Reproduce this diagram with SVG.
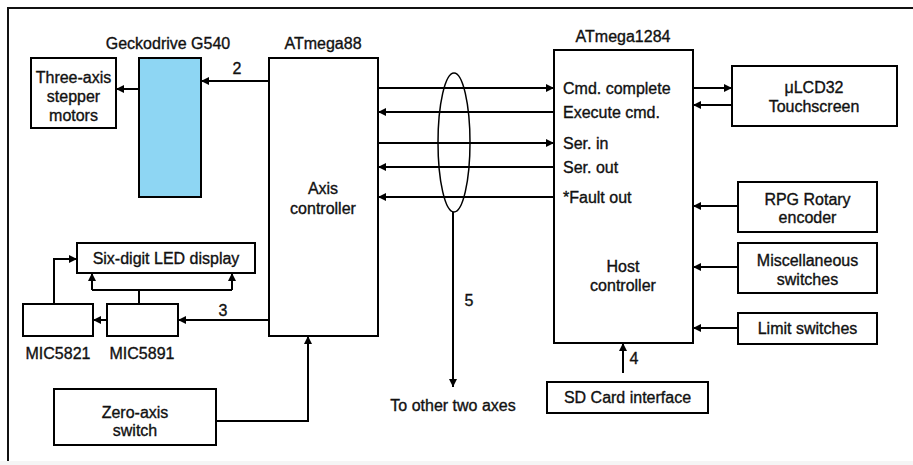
<svg xmlns="http://www.w3.org/2000/svg" width="913" height="465" viewBox="0 0 913 465">
<defs>
<marker id="ah" viewBox="0 0 10 10" refX="10" refY="5" markerWidth="9" markerHeight="8" markerUnits="userSpaceOnUse" orient="auto">
<path d="M0,0 L10,5 L0,10 z" fill="#000"/>
</marker>
<style>
.box{fill:#fff;stroke:#000;stroke-width:2}
.t{font-family:"Liberation Sans",Arial,sans-serif;font-size:16px;fill:#111;stroke:#111;stroke-width:0.35;text-anchor:middle}
.l{text-anchor:start}
.c{fill:none;stroke:#000;stroke-width:2}
.a{marker-end:url(#ah)}
</style>
</defs>
<rect width="913" height="465" fill="#fff"/>
<g id="frame">
<path d="M8,466 L8,8 L913,8" fill="none" stroke="#111" stroke-width="2"/>
<rect x="0" y="461" width="913" height="4" fill="#f5f5f5"/>
</g>
<g id="motors">
<rect class="box" x="31" y="58" width="85" height="70"/>
<text class="t" x="73.5" y="83">Three-axis</text>
<text class="t" x="73.5" y="102">stepper</text>
<text class="t" x="73.5" y="121">motors</text>
</g>
<g id="gecko">
<rect x="139" y="58" width="62" height="139" fill="#8ed6f3" stroke="#000" stroke-width="2"/>
<text class="t" x="168" y="49">Geckodrive G540</text>
</g>
<g id="atmega88">
<rect class="box" x="269" y="58" width="109" height="278"/>
<text class="t" x="323" y="49">ATmega88</text>
<text class="t" x="323" y="194">Axis</text>
<text class="t" x="323" y="214">controller</text>
</g>
<g id="atmega1284">
<rect class="box" x="554" y="50" width="139" height="293"/>
<text class="t" x="623" y="42">ATmega1284</text>
<text class="t l" x="563" y="94">Cmd. complete</text>
<text class="t l" x="563" y="118">Execute cmd.</text>
<text class="t l" x="563" y="149">Ser. in</text>
<text class="t l" x="563" y="173">Ser. out</text>
<text class="t l" x="563" y="203">*Fault out</text>
<text class="t" x="623" y="272">Host</text>
<text class="t" x="623" y="291">controller</text>
</g>
<g id="lcd">
<rect class="box" x="732" y="66" width="165" height="60"/>
<text class="t" x="814" y="93">μLCD32</text>
<text class="t" x="814" y="112">Touchscreen</text>
</g>
<g id="rpg">
<rect class="box" x="738" y="182" width="139" height="50"/>
<text class="t" x="807.5" y="205">RPG Rotary</text>
<text class="t" x="807.5" y="223">encoder</text>
</g>
<g id="misc">
<rect class="box" x="738" y="243" width="139" height="50"/>
<text class="t" x="807.5" y="266">Miscellaneous</text>
<text class="t" x="807.5" y="285">switches</text>
</g>
<g id="limit">
<rect class="box" x="738" y="313" width="139" height="31"/>
<text class="t" x="807.5" y="334">Limit switches</text>
</g>
<g id="sd">
<rect class="box" x="547" y="382" width="161" height="31"/>
<text class="t" x="627.5" y="403">SD Card interface</text>
</g>
<g id="led">
<rect class="box" x="77" y="243" width="178" height="30"/>
<text class="t" x="166" y="264">Six-digit LED display</text>
</g>
<g id="mic5821">
<rect class="box" x="23" y="304" width="70" height="32"/>
<text class="t" x="58" y="359">MIC5821</text>
</g>
<g id="mic5891">
<rect class="box" x="107" y="304" width="71" height="32"/>
<text class="t" x="142" y="359">MIC5891</text>
</g>
<g id="zero">
<rect class="box" x="54" y="389" width="162" height="56"/>
<text class="t" x="135" y="418">Zero-axis</text>
<text class="t" x="135" y="436">switch</text>
</g>
<g id="axes">
<text class="t" x="453" y="411">To other two axes</text>
</g>
<g id="connectors">
<path class="c a" d="M139,89 L116,89"/>
<path class="c a" d="M269,81 L201,81"/>
<text class="t" x="237" y="74">2</text>
<path class="c a" d="M378,88 L554,88"/>
<path class="c a" d="M554,112 L378,112"/>
<path class="c a" d="M378,143 L554,143"/>
<path class="c a" d="M554,167 L378,167"/>
<path class="c a" d="M554,197 L378,197"/>
<ellipse cx="454" cy="142.5" rx="16" ry="69.5" fill="none" stroke="#000" stroke-width="1.5"/>
<path class="c a" d="M453,212 L453,387"/>
<text class="t" x="469" y="306">5</text>
<path class="c a" d="M693,88 L732,88"/>
<path class="c a" d="M732,105 L693,105"/>
<path class="c a" d="M738,206 L693,206"/>
<path class="c a" d="M738,267 L693,267"/>
<path class="c a" d="M738,328 L693,328"/>
<path class="c a" d="M623,373 L623,343"/>
<text class="t" x="634" y="364">4</text>
<path class="c a" d="M269,320 L178,320"/>
<text class="t" x="223" y="316">3</text>
<path class="c a" d="M107,320 L93,320"/>
<path class="c" d="M139,304 L139,290 M92,290 L232,290"/>
<path class="c a" d="M92,290 L92,273"/>
<path class="c a" d="M232,290 L232,273"/>
<path class="c a" d="M54,304 L54,259 L77,259"/>
<path class="c a" d="M216,421 L308,421 L308,336"/>
</g>
</svg>
